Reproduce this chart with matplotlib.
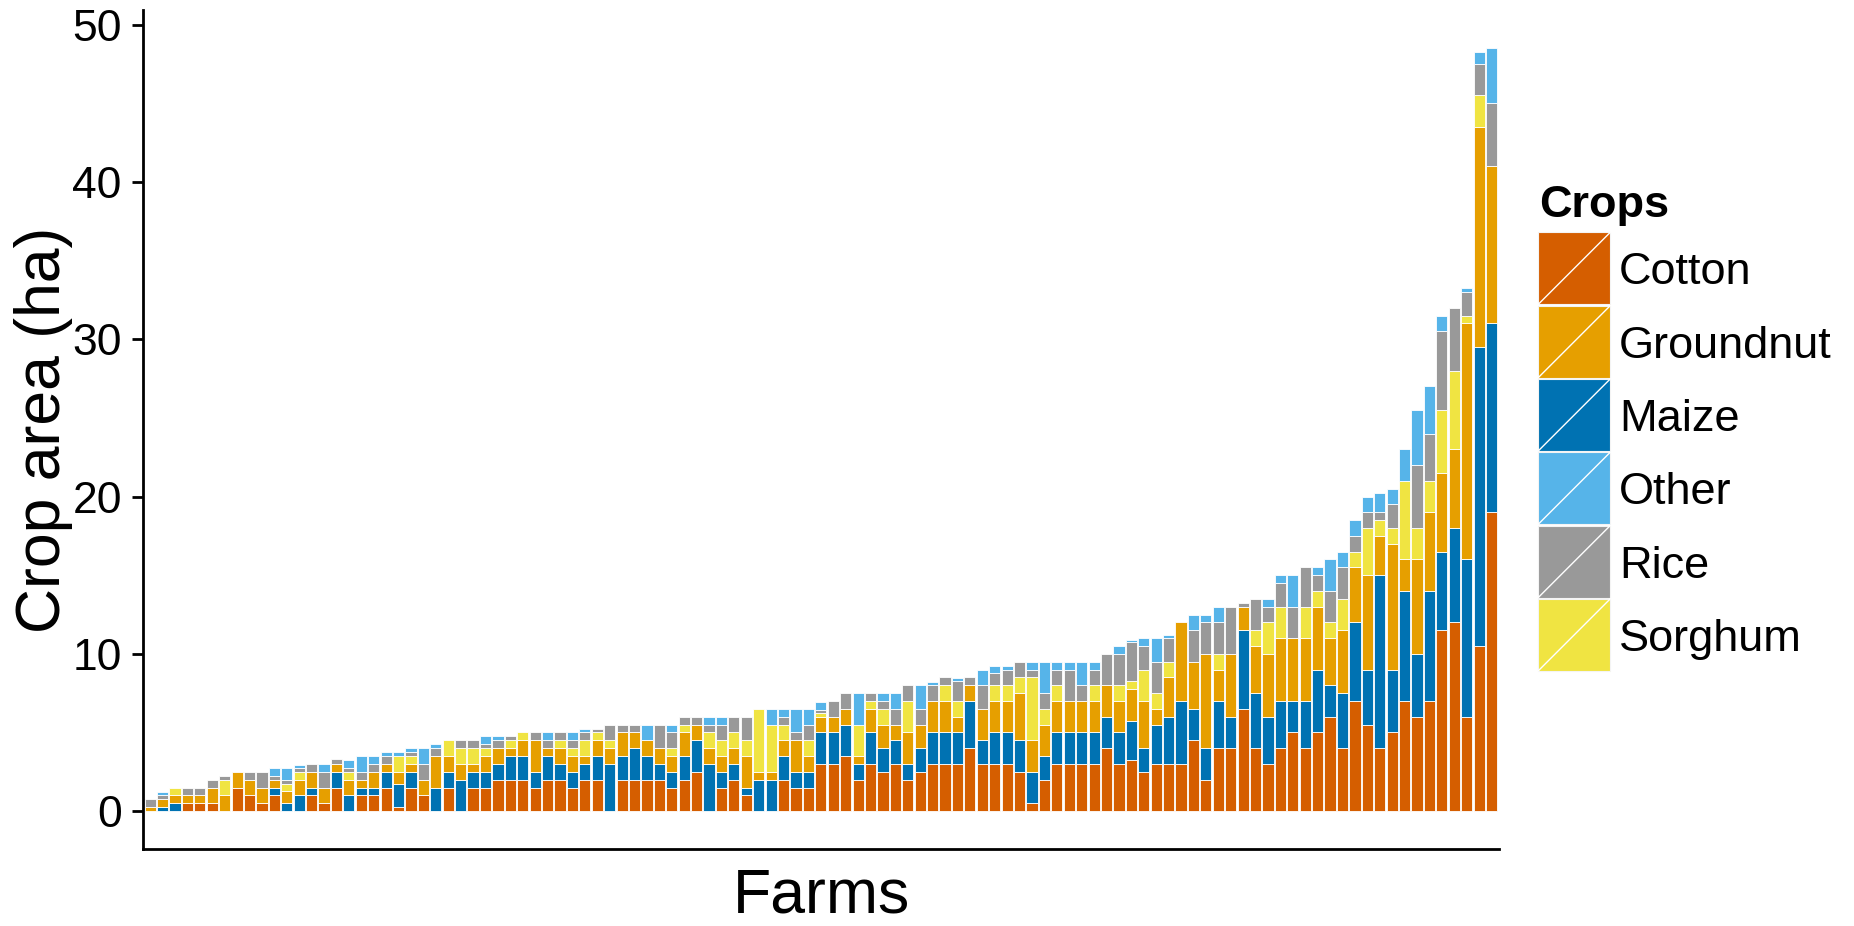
import numpy as np
import matplotlib
matplotlib.use("Agg")
import matplotlib.pyplot as plt
from matplotlib.patches import Rectangle
from matplotlib.lines import Line2D

plt.rcParams['font.family'] = ['Liberation Sans', 'DejaVu Sans']

# Crop areas (ha) per farm, farms ordered by total area
cotton = [0, 0, 0, 0.5, 0.5, 0.5, 0, 1.5, 1.0, 0.5,
          1.0, 0, 0, 1.0, 0.5, 1.5, 0, 1.0, 1.0, 1.5,
          0.25, 1.5, 1.0, 0, 1.5, 0, 1.5, 1.5, 2.0, 2.0,
          2.0, 1.5, 2.0, 2.0, 1.5, 2.0, 2.0, 0, 2.0, 2.0,
          2.0, 2.0, 1.5, 2.0, 2.5, 0, 1.5, 2.0, 1.0, 0,
          0, 2.0, 1.5, 1.5, 3.0, 3.0, 3.5, 2.0, 3.0, 2.5,
          3.0, 2.0, 2.5, 3.0, 3.0, 3.0, 4.0, 3.0, 3.0, 3.0,
          2.5, 0.5, 2.0, 3.0, 3.0, 3.0, 3.0, 4.0, 3.0, 3.25,
          2.5, 3.0, 3.0, 3.0, 4.5, 2.0, 4.0, 4.0, 6.5, 4.0,
          3.0, 4.0, 5.0, 4.0, 5.0, 6.0, 4.0, 7.0, 5.5, 4.0,
          5.0, 7.0, 6.0, 7.0, 11.5, 12.0, 6.0, 10.5, 19.0]
maize = [0, 0.25, 0.5, 0, 0, 0, 0, 0, 0, 0,
         0.5, 0.5, 1.0, 0.5, 0, 1.0, 1.0, 0.5, 0.5, 1.0,
         1.5, 1.0, 0, 1.5, 1.0, 2.0, 1.0, 1.0, 1.0, 1.5,
         1.5, 1.0, 1.5, 1.0, 1.0, 1.0, 1.5, 3.0, 1.5, 2.0,
         1.5, 1.0, 1.0, 1.5, 2.0, 3.0, 1.0, 1.0, 0.5, 2.0,
         2.0, 1.5, 1.0, 1.0, 2.0, 2.0, 2.0, 1.0, 2.0, 1.5,
         1.5, 1.0, 1.5, 2.0, 2.0, 2.0, 3.0, 1.5, 2.0, 2.0,
         2.0, 2.0, 1.5, 2.0, 2.0, 2.0, 2.0, 2.0, 2.0, 2.5,
         1.5, 2.5, 3.0, 4.0, 2.0, 2.0, 3.0, 2.0, 5.0, 3.5,
         3.0, 3.0, 2.0, 3.0, 4.0, 2.0, 3.5, 5.0, 3.5, 11.0,
         4.0, 7.0, 4.0, 7.0, 5.0, 6.0, 10.0, 19.0, 12.0]
groundnut = [0.25, 0.5, 0.5, 0.5, 0.5, 1.0, 1.0, 1.0, 1.0, 1.0,
             0.5, 0.75, 1.0, 1.0, 1.0, 0.5, 1.0, 0.5, 1.0, 0.5,
             0.75, 0.5, 1.0, 2.0, 1.0, 1.0, 0.5, 1.0, 1.0, 0.5,
             1.0, 2.0, 0.5, 1.0, 1.0, 0.5, 1.0, 1.0, 1.5, 1.0,
             1.0, 1.0, 1.0, 1.5, 1.0, 1.0, 1.0, 1.0, 2.0, 0.5,
             0.5, 1.0, 2.0, 1.0, 1.0, 1.0, 1.0, 0.5, 1.5, 1.5,
             1.0, 2.0, 1.5, 2.0, 2.0, 1.0, 1.0, 2.0, 2.0, 2.0,
             3.0, 2.0, 2.0, 2.0, 2.0, 2.0, 2.0, 2.0, 2.0, 2.0,
             3.0, 1.0, 2.5, 5.0, 3.0, 6.0, 2.0, 4.0, 1.5, 3.0,
             4.0, 4.0, 4.0, 4.0, 4.0, 3.0, 4.0, 3.5, 6.0, 2.5,
             8.0, 2.0, 6.0, 5.0, 5.0, 5.0, 15.0, 14.0, 10.0]
sorghum = [0, 0, 0.5, 0, 0, 0, 1.0, 0, 0, 0,
           0, 0.5, 0.5, 0, 0, 0, 0.5, 0, 0, 0,
           1.0, 0.5, 0, 0, 1.0, 1.0, 1.0, 0.5, 0, 0.5,
           0.5, 0, 0, 0.5, 0.5, 1.0, 0.5, 0.5, 0, 0,
           0, 0, 0.5, 0.5, 0, 1.0, 1.0, 1.0, 1.0, 4.0,
           3.0, 1.0, 0, 1.0, 0.25, 0, 0, 2.0, 0.5, 1.0,
           0, 2.0, 0, 0, 1.0, 1.0, 0, 0, 1.0, 1.0,
           1.0, 4.0, 1.0, 1.0, 0, 0, 1.0, 0, 1.0, 0.5,
           2.0, 1.0, 1.0, 0, 0, 0, 1.0, 0, 0, 1.0,
           2.0, 2.0, 0, 2.0, 1.0, 1.0, 2.0, 1.0, 3.0, 1.0,
           1.0, 5.0, 2.0, 2.0, 4.0, 5.0, 0.5, 2.0, 0]
rice = [0.5, 0.25, 0, 0.5, 0.5, 0.5, 0.25, 0, 0.5, 1.0,
        0.25, 0.25, 0.25, 0.5, 1.0, 0.3, 0.25, 0.5, 0.5, 0.5,
        0, 0.25, 1.0, 0.5, 0, 0.5, 0.5, 0.25, 0.5, 0.25,
        0, 0.5, 0.5, 0.5, 0.5, 0.5, 0.2, 1.0, 0.5, 0.5,
        0, 1.5, 1.0, 0.5, 0.5, 0.5, 1.0, 1.0, 1.5, 0,
        0, 0.5, 0.5, 1.0, 0.2, 1.0, 1.0, 0, 0.5, 0.5,
        1.0, 1.0, 1.0, 1.0, 0.5, 1.25, 0.5, 1.5, 0.75, 1.0,
        1.0, 0.5, 1.0, 1.0, 2.0, 1.0, 1.0, 2.0, 2.0, 2.5,
        1.5, 2.0, 1.5, 0, 2.0, 2.0, 2.0, 3.0, 0.25, 2.0,
        1.0, 1.5, 2.0, 2.5, 1.0, 2.0, 2.0, 1.0, 1.0, 0.5,
        1.5, 0, 4.0, 3.0, 5.0, 4.0, 1.5, 2.0, 4.0]
other = [0, 0.2, 0, 0, 0, 0, 0, 0, 0, 0,
         0.5, 0.75, 0.2, 0, 0.5, 0, 0.5, 1.0, 0.5, 0.25,
         0.25, 0.25, 1.0, 0.25, 0, 0, 0, 0.5, 0.25, 0,
         0, 0, 0.5, 0, 0.5, 0.2, 0, 0, 0, 0,
         1.0, 0, 0.5, 0, 0, 0.5, 0.5, 0, 0, 0,
         1.0, 0.5, 1.5, 1.0, 0.5, 0, 0, 2.0, 0, 0.5,
         1.0, 0, 1.5, 0.2, 0, 0.2, 0, 1.0, 0.5, 0.25,
         0, 0.5, 2.0, 0.5, 0.5, 1.5, 0.5, 0, 0.5, 0.1,
         0.5, 1.5, 0.2, 0, 1.0, 0.5, 1.0, 0, 0, 0,
         0.5, 0.5, 2.0, 0, 0.5, 2.0, 1.0, 1.0, 1.0, 1.25,
         1.0, 2.0, 3.5, 3.0, 1.0, 0, 0.25, 0.75, 3.5]

crop_names = ["Cotton", "Groundnut", "Maize", "Other", "Rice", "Sorghum"]
crop_colors = {"Cotton": "#D55E00", "Groundnut": "#E69F00", "Maize": "#0072B2",
               "Other": "#56B4E9", "Rice": "#999999", "Sorghum": "#F0E442"}
# bottom-to-top stacking order
stack_order = [("Cotton", cotton), ("Maize", maize), ("Groundnut", groundnut),
               ("Sorghum", sorghum), ("Rice", rice), ("Other", other)]

W, H = 1854, 926
fig = plt.figure(figsize=(W / 100, H / 100), dpi=100)
ax = fig.add_axes([142.7 / W, 1 - 849.3 / H, (1499 - 142.7) / W, (849.3 - 10) / H])

n = len(cotton)
x = np.arange(1, n + 1)
bottom = np.zeros(n)
for name, vals in stack_order:
    v = np.asarray(vals, dtype=float)
    m = v > 0
    ax.bar(x[m], v[m], bottom=bottom[m], width=0.9, color=crop_colors[name],
           edgecolor="white", linewidth=0.6)
    bottom += v

totals = bottom
pad = 0.05 * totals.max()
ax.set_ylim(-pad, totals.max() + pad)
ax.set_xlim(0.4, n + 0.6)

ax.set_yticks([0, 10, 20, 30, 40, 50])
ax.set_xticks([])
for s in ["top", "right"]:
    ax.spines[s].set_visible(False)
for s in ["left", "bottom"]:
    ax.spines[s].set_linewidth(2.0)
ax.tick_params(axis="y", length=8, width=2.0, pad=7, labelsize=32, colors="black")

fig.text(821 / W, 1 - 912.5 / H, "Farms", fontsize=45, ha="center", va="baseline")
fig.text(44 / W, 1 - 430 / H, "Crop area (ha)", fontsize=45, ha="center", va="center",
         rotation=90)

# legend drawn in figure pixel coordinates
def fx(px):
    return px / W

def fy(py):
    return 1 - py / H

fig.text(fx(1539), fy(217.3), "Crops", fontsize=32.5, fontweight="bold", ha="left",
         va="baseline")
key_left, key_top, key_size, key_step = 1538.3, 232.3, 72.0, 73.3
for i, name in enumerate(crop_names):
    top = key_top + i * key_step
    rect = Rectangle((fx(key_left), fy(top + key_size)), key_size / W, key_size / H,
                     transform=fig.transFigure, facecolor=crop_colors[name],
                     edgecolor="#f4f4f4", linewidth=0.8)
    fig.add_artist(rect)
    fig.add_artist(Line2D([fx(key_left), fx(key_left + key_size)],
                          [fy(top + key_size), fy(top)], transform=fig.transFigure,
                          color="white", linewidth=1.0))
    fig.text(fx(1619), fy(top + key_size / 2), name, fontsize=32.5, ha="left",
             va="center_baseline")

fig.savefig("out.png", dpi=100)
